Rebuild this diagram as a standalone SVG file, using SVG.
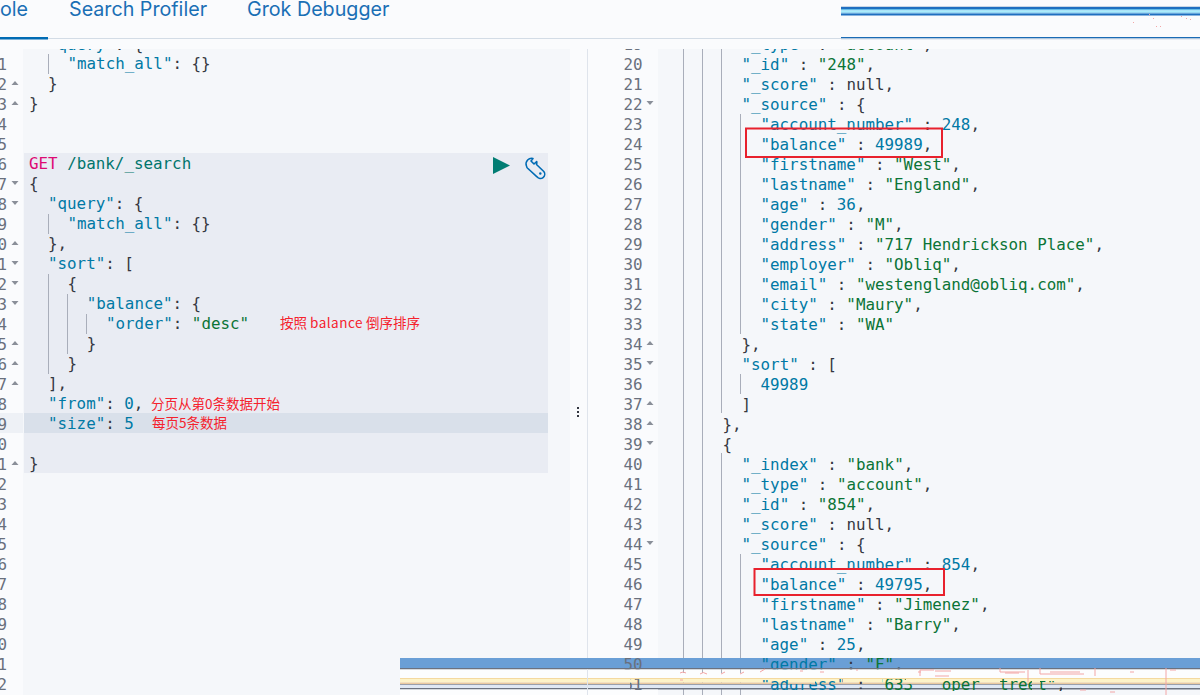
<svg xmlns="http://www.w3.org/2000/svg" width="1200" height="695" viewBox="0 0 1200 695">
<style>
text{white-space:pre}
.c{font-family:"DejaVu Sans Mono","Liberation Mono",monospace;font-size:15.85px;fill:#343741}
.g{font-family:"DejaVu Sans Mono","Liberation Mono",monospace;font-size:15.85px;fill:#69707d;text-anchor:end}
.k{fill:#0079a5}.s{fill:#0b7436}.n{fill:#0079a5}
.t{font-family:Inter,"Noto Sans",sans-serif;font-size:19.7px;fill:#1a6fb5}
.r{font-family:"Noto Sans CJK SC","Noto Sans",sans-serif;font-size:13.5px;fill:#f5222d}
.i{stroke:#a9aeba;stroke-width:1;fill:none}
.box{fill:none;stroke:#e8212d;stroke-width:2}
.u{fill:#8a8f99}
.sp{stroke:#f3a6a6;stroke-width:1;fill:none}
</style>
<defs>
<path id="up" d="M-3.5 2H3.5L0-2Z"/>
<path id="dn" d="M-3.5-2H3.5L0 2Z"/>
<clipPath id="ed"><rect x="0" y="49" width="1200" height="646"/></clipPath>
<clipPath id="low">
<rect x="758" y="680" width="32" height="11"/><rect x="790" y="684" width="25" height="7"/><rect x="815" y="679" width="28" height="12"/><rect x="855" y="680" width="8" height="9"/><rect x="882" y="679" width="24" height="12"/><rect x="906" y="684" width="10" height="7"/><rect x="941" y="679" width="46" height="12"/><rect x="1000" y="679" width="32" height="12"/><rect x="1040" y="681" width="22" height="10"/><rect x="630" y="679" width="16" height="12"/>
</clipPath>
</defs>
<rect width="1200" height="695" fill="#fafbfd"/>
<rect x="23" y="49" width="547" height="646" fill="#f5f7fa"/>
<rect x="658" y="49" width="542" height="646" fill="#f5f7fa"/>
<rect x="24" y="153" width="524" height="320" fill="#e9ecf3"/>
<rect x="0" y="413" width="23" height="20" fill="#eef1f6"/>
<rect x="24" y="413" width="524" height="20" fill="#d9e0ea"/>
<path d="M587.5 49V695" stroke="#dfe4ec" fill="none"/>
<path d="M0 38.5H841" stroke="#d3dce6" fill="none"/>
<rect x="0" y="37" width="48" height="2.5" fill="#006bb4"/>
<text class="t" x="28" y="16" text-anchor="end">ole</text>
<text class="t" x="69" y="16">Search Profiler</text>
<text class="t" x="247" y="16">Grok Debugger</text>
<g id="guides">
<path class="i" d="M48.5 54V74M48.5 214V234M48.5 274V374M67.5 294V354M86.5 314V334"/>
<path class="i" d="M683.5 49V695M702.5 49V695M721.5 49V413M721.5 453V695M740.5 114V334M740.5 374V394M740.5 554V695"/>
</g>
<g id="left-gutter" class="g">
<text x="7" y="70">1</text><text x="7" y="90">2</text><text x="7" y="110">3</text><text x="7" y="130">4</text><text x="7" y="150">5</text><text x="7" y="170">6</text><text x="7" y="190">7</text><text x="7" y="210">8</text><text x="7" y="230">9</text><text x="7" y="250">0</text><text x="7" y="270">1</text><text x="7" y="290">2</text><text x="7" y="310">3</text><text x="7" y="330">4</text><text x="7" y="350">5</text><text x="7" y="370">6</text><text x="7" y="390">7</text><text x="7" y="410">8</text><text x="7" y="430">9</text><text x="7" y="450">0</text><text x="7" y="470">1</text><text x="7" y="490">2</text><text x="7" y="510">3</text><text x="7" y="530">4</text><text x="7" y="550">5</text><text x="7" y="570">6</text><text x="7" y="590">7</text><text x="7" y="610">8</text><text x="7" y="630">9</text><text x="7" y="650">0</text><text x="7" y="670">1</text><text x="7" y="690">2</text>
</g>
<g id="left-folds" class="u">
<use href="#up" x="15" y="83"/><use href="#up" x="15" y="103"/><use href="#dn" x="15" y="183"/><use href="#dn" x="15" y="203"/><use href="#up" x="15" y="243"/><use href="#dn" x="15" y="263"/><use href="#dn" x="15" y="283"/><use href="#dn" x="15" y="303"/><use href="#up" x="15" y="343"/><use href="#up" x="15" y="363"/><use href="#up" x="15" y="383"/><use href="#up" x="15" y="463"/>
</g>
<g id="left-code" class="c" clip-path="url(#ed)">
<text x="48" y="50"><tspan class="k">"query"</tspan>: {</text>
<text x="67.5" y="69"><tspan class="k">"match_all"</tspan>: {}</text>
<text x="48" y="89">}</text>
<text x="29" y="109">}</text>
<text x="29" y="169"><tspan fill="#dd0a73">GET</tspan><tspan fill="#00756c"> /bank/_search</tspan></text>
<text x="29" y="189">{</text>
<text x="48" y="209"><tspan class="k">"query"</tspan>: {</text>
<text x="67.5" y="229"><tspan class="k">"match_all"</tspan>: {}</text>
<text x="48" y="249">},</text>
<text x="48" y="269"><tspan class="k">"sort"</tspan>: [</text>
<text x="67.5" y="289">{</text>
<text x="86.7" y="309"><tspan class="k">"balance"</tspan>: {</text>
<text x="106" y="329"><tspan class="k">"order"</tspan>: <tspan class="s">"desc"</tspan></text>
<text x="86.7" y="349">}</text>
<text x="67.5" y="369">}</text>
<text x="48" y="389">],</text>
<text x="48" y="409"><tspan class="k">"from"</tspan>: <tspan class="n">0</tspan>,</text>
<text x="48" y="429"><tspan class="k">"size"</tspan>: <tspan class="n">5</tspan></text>
<text x="29" y="469">}</text>
</g>
<g id="notes" class="r">
<text x="280" y="328">按照 <tspan letter-spacing="0.5">balance</tspan> 倒序排序</text>
<text x="151" y="409">分页从第0条数据开始</text>
<text x="152" y="428">每页5条数据</text>
</g>
<g id="run">
<path d="M493 157L510 165.5L493 174Z" fill="#017d73"/>
<path d="M533 158.5A5.6 5.6 0 0 0 526.3 165.5A5 5 0 0 0 529 169.5L537 176.8A3.7 3.7 0 0 0 543.8 171.5L536.5 164.5A5 5 0 0 0 536.7 161.5L534 164L531 161Z" fill="none" stroke="#006bb4" stroke-width="1.6" stroke-linejoin="round"/>
<circle cx="540.3" cy="173.5" r="1.2" fill="#006bb4"/>
</g>
<g id="handle" fill="#343741"><rect x="577" y="407" width="2" height="2"/><rect x="577" y="411" width="2" height="2"/><rect x="577" y="415" width="2" height="2"/></g>
<g id="right-gutter" class="g" clip-path="url(#ed)">
<text x="642.5" y="50">19</text><text x="642.5" y="70">20</text><text x="642.5" y="90">21</text><text x="642.5" y="110">22</text><text x="642.5" y="130">23</text><text x="642.5" y="150">24</text><text x="642.5" y="170">25</text><text x="642.5" y="190">26</text><text x="642.5" y="210">27</text><text x="642.5" y="230">28</text><text x="642.5" y="250">29</text><text x="642.5" y="270">30</text><text x="642.5" y="290">31</text><text x="642.5" y="310">32</text><text x="642.5" y="330">33</text><text x="642.5" y="350">34</text><text x="642.5" y="370">35</text><text x="642.5" y="390">36</text><text x="642.5" y="410">37</text><text x="642.5" y="430">38</text><text x="642.5" y="450">39</text><text x="642.5" y="470">40</text><text x="642.5" y="490">41</text><text x="642.5" y="510">42</text><text x="642.5" y="530">43</text><text x="642.5" y="550">44</text><text x="642.5" y="570">45</text><text x="642.5" y="590">46</text><text x="642.5" y="610">47</text><text x="642.5" y="630">48</text><text x="642.5" y="650">49</text>
</g>
<g id="right-folds" class="u">
<use href="#dn" x="650" y="103"/><use href="#up" x="650" y="343"/><use href="#dn" x="650" y="363"/><use href="#up" x="650" y="403"/><use href="#up" x="650" y="423"/><use href="#dn" x="650" y="443"/><use href="#dn" x="650" y="543"/>
</g>
<g id="right-code" class="c" clip-path="url(#ed)">
<text x="741.5" y="50"><tspan class="k">"_type"</tspan> : <tspan class="s">"account"</tspan>,</text>
<text x="741.5" y="70"><tspan class="k">"_id"</tspan> : <tspan class="s">"248"</tspan>,</text>
<text x="741.5" y="90"><tspan class="k">"_score"</tspan> : null,</text>
<text x="741.5" y="110"><tspan class="k">"_source"</tspan> : {</text>
<text x="760.5" y="130"><tspan class="k">"account_number"</tspan> : <tspan class="n">248</tspan>,</text>
<text x="760.5" y="150"><tspan class="k">"balance"</tspan> : <tspan class="n">49989</tspan>,</text>
<text x="760.5" y="170"><tspan class="k">"firstname"</tspan> : <tspan class="s">"West"</tspan>,</text>
<text x="760.5" y="190"><tspan class="k">"lastname"</tspan> : <tspan class="s">"England"</tspan>,</text>
<text x="760.5" y="210"><tspan class="k">"age"</tspan> : <tspan class="n">36</tspan>,</text>
<text x="760.5" y="230"><tspan class="k">"gender"</tspan> : <tspan class="s">"M"</tspan>,</text>
<text x="760.5" y="250"><tspan class="k">"address"</tspan> : <tspan class="s">"717 Hendrickson Place"</tspan>,</text>
<text x="760.5" y="270"><tspan class="k">"employer"</tspan> : <tspan class="s">"Obliq"</tspan>,</text>
<text x="760.5" y="290"><tspan class="k">"email"</tspan> : <tspan class="s">"westengland@obliq.com"</tspan>,</text>
<text x="760.5" y="310"><tspan class="k">"city"</tspan> : <tspan class="s">"Maury"</tspan>,</text>
<text x="760.5" y="330"><tspan class="k">"state"</tspan> : <tspan class="s">"WA"</tspan></text>
<text x="741.5" y="350">},</text>
<text x="741.5" y="370"><tspan class="k">"sort"</tspan> : [</text>
<text x="760.5" y="390" class="n">49989</text>
<text x="741.5" y="410">]</text>
<text x="722.5" y="430">},</text>
<text x="722.5" y="450">{</text>
<text x="741.5" y="470"><tspan class="k">"_index"</tspan> : <tspan class="s">"bank"</tspan>,</text>
<text x="741.5" y="490"><tspan class="k">"_type"</tspan> : <tspan class="s">"account"</tspan>,</text>
<text x="741.5" y="510"><tspan class="k">"_id"</tspan> : <tspan class="s">"854"</tspan>,</text>
<text x="741.5" y="530"><tspan class="k">"_score"</tspan> : null,</text>
<text x="741.5" y="550"><tspan class="k">"_source"</tspan> : {</text>
<text x="760.5" y="570"><tspan class="k">"account_number"</tspan> : <tspan class="n">854</tspan>,</text>
<text x="760.5" y="590"><tspan class="k">"balance"</tspan> : <tspan class="n">49795</tspan>,</text>
<text x="760.5" y="610"><tspan class="k">"firstname"</tspan> : <tspan class="s">"Jimenez"</tspan>,</text>
<text x="760.5" y="630"><tspan class="k">"lastname"</tspan> : <tspan class="s">"Barry"</tspan>,</text>
<text x="760.5" y="650"><tspan class="k">"age"</tspan> : <tspan class="n">25</tspan>,</text>
</g>
<rect class="box" x="746" y="128.5" width="196" height="28.5"/>
<rect class="box" x="754.5" y="569" width="189.5" height="26"/>
<g id="top-band">
<rect x="841" y="5" width="359" height="34" fill="#fafbfd"/>
<rect x="841" y="6" width="359" height="1" fill="#c9d6e6"/>
<rect x="841" y="7" width="359" height="2" fill="#1f6fc0"/>
<rect x="841" y="9" width="359" height="1.5" fill="#62bce8"/>
<rect x="841" y="10.5" width="359" height="2" fill="#a9ecfb"/>
<rect x="841" y="12.5" width="359" height="1" fill="#62bce8"/>
<rect x="841" y="13.5" width="359" height="2" fill="#1f6fc0"/>
<rect x="841" y="37" width="359" height="1.5" fill="#1a6bb5"/>
<rect x="841" y="38.5" width="359" height="1" fill="#d3dce6"/>
<path class="sp" d="M1133 22.5h1M1149 14.5h1M1153 18.5h1M1156 26.5h1M1160 26.5h1M1181 16.5h1M1186 18.5h1M1190 19.5h1"/>
</g>
<g id="bottom-band">
<rect x="400" y="658" width="800" height="10" fill="#6a9fd6"/>
<text class="g" x="642.5" y="670">50</text>
<text class="c" x="760.5" y="670"><tspan class="k">"gender"</tspan> : <tspan class="s">"F"</tspan>,</text>
<rect x="400" y="668" width="800" height="1.5" fill="#6b7280"/>
<rect x="400" y="669.5" width="800" height="8.5" fill="#fcfdfe"/>
<path class="i" d="M683.5 669V673M702.5 669V673M721.5 669V673M740.5 669V673"/>
<rect x="400" y="678" width="800" height="1" fill="#f4d9a0"/>
<rect x="400" y="679" width="800" height="3.5" fill="#fdf3c8"/>
<rect x="400" y="682.5" width="800" height="1.5" fill="#e9c9a0"/>
<rect x="400" y="684" width="800" height="1" fill="#9aa0ad"/>
<rect x="400" y="685" width="800" height="3" fill="#dfe8f4"/>
<rect x="400" y="688" width="800" height="1.5" fill="#6b7280"/>
<rect x="400" y="689.5" width="258" height="5.5" fill="#fcfdfe"/>
<path class="i" d="M683.5 690V695M702.5 690V695M721.5 690V695M740.5 690V695"/>
<path d="M587.5 669V695" stroke="#dfe4ec" fill="none"/>
<text class="g" x="642.5" y="690" clip-path="url(#low)">51</text>
<text class="c" x="760.5" y="690" clip-path="url(#low)"><tspan class="k">"address"</tspan> : <tspan class="s">"633 Cooper Street"</tspan>,</text>
<path class="sp" d="M680 673q3-2 6 0M700 674q3-3 7 0M721 674l4-2M740 674l4-2M680 680h3M760 672l5-3M800 671h3M820 672h4M856 670h2M918 672h3M920 676V670H934M935 671h16M935 676h14M1000 668v4h25M1005 673h14M1028 670v12M1040 668v6h44M1050 672h30M1095 668v8M1130 672h4M1170 670h6M1166 668v28M1080 690h6M1110 692h5"/>
</g>
</svg>
